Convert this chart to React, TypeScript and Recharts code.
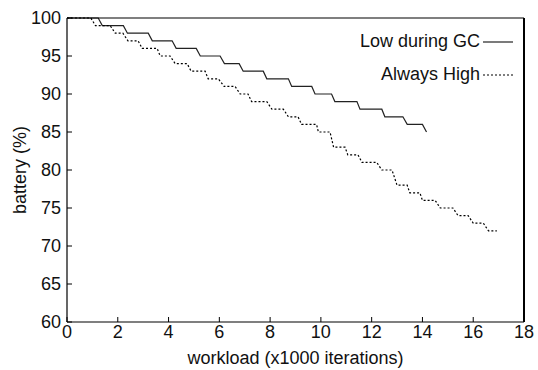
import React from "react";
import { LineChart, Line, XAxis, YAxis, Legend } from "recharts";

// Low during GC (solid)
const lowX = [0, 1.23, 1.39, 2.22, 2.38, 3.2, 3.36, 4.14, 4.3, 5.09, 5.25, 6.03, 6.2, 6.78, 6.94, 7.73, 7.87, 8.72, 8.85, 9.64, 9.77, 10.42, 10.55, 11.42, 11.54, 12.4, 12.52, 13.23, 13.4, 14.0, 14.16];
const lowY = [100, 100, 99, 99, 98, 98, 97, 97, 96, 96, 95, 95, 94, 94, 93, 93, 92, 92, 91, 91, 90, 90, 89, 89, 88, 88, 87, 87, 86, 86, 85];

// Always High (dotted)
const highX = [0, 0.94, 1.12, 1.7, 1.9, 2.2, 2.4, 2.8, 2.96, 3.55, 3.67, 4.06, 4.26, 4.73, 4.89, 5.44, 5.56, 5.96, 6.19, 6.62, 6.82, 7.13, 7.27, 7.87, 8.07, 8.52, 8.72, 9.1, 9.24, 9.83, 9.9, 10.36, 10.5, 10.95, 11.06, 11.46, 11.62, 12.2, 12.4, 12.8, 13.0, 13.4, 13.5, 13.9, 14.0, 14.5, 14.7, 15.2, 15.4, 15.8, 16.0, 16.4, 16.6, 16.93];
const highY = [100, 100, 99, 99, 98, 98, 97, 97, 96, 96, 95, 95, 94, 94, 93, 93, 92, 92, 91, 91, 90, 90, 89, 89, 88, 88, 87, 87, 86, 86, 85, 85, 83, 83, 82, 82, 81, 81, 80, 80, 78, 78, 77, 77, 76, 76, 75, 75, 74, 74, 73, 73, 72, 72];

const xTicks = [0, 2, 4, 6, 8, 10, 12, 14, 16, 18];
const yTicks = [60, 65, 70, 75, 80, 85, 90, 95, 100];

const seriesNames = ["Low during GC", "Always High"];

const lowData = lowX.map((x, i) => ({ x, y: lowY[i] }));
const highData = highX.map((x, i) => ({ x, y: highY[i] }));

const FONT = "'Liberation Sans', Arial, Helvetica, sans-serif";
const TXT = "#111";
const TICK_LEN = 5;
const XM = 3;
const YM = 6;

const BottomTick = (props: any) => {
  const { x, y, payload } = props;
  return (
    <g>
      <line x1={x} x2={x} y1={y - XM} y2={y - XM - TICK_LEN} stroke="#000" strokeWidth={1} />
      <text x={x} y={y} dy="0.71em" textAnchor="middle" fontSize={18} fontFamily={FONT} fill={TXT}>
        {payload.value}
      </text>
    </g>
  );
};

const LeftTick = (props: any) => {
  const { x, y, payload } = props;
  return (
    <g>
      <line x1={x + YM} x2={x + YM + TICK_LEN} y1={y} y2={y} stroke="#000" strokeWidth={1} />
      <text x={x} y={y} dy="0.355em" textAnchor="end" fontSize={18} fontFamily={FONT} fill={TXT}>
        {payload.value}
      </text>
    </g>
  );
};

const TopTick = (props: any) => {
  const { x, y } = props;
  return <line x1={x} x2={x} y1={y} y2={y + TICK_LEN} stroke="#000" strokeWidth={1} />;
};

const RightTick = (props: any) => {
  const { x, y } = props;
  return <line x1={x} x2={x - TICK_LEN} y1={y} y2={y} stroke="#000" strokeWidth={1} />;
};

const renderLegend = () => (
  <div style={{ fontFamily: FONT, fontSize: 18, color: TXT }}>
    {seriesNames.map((name, i) => (
      <div
        key={name}
        style={{ height: 33, lineHeight: "33px", display: "flex", alignItems: "center", justifyContent: "flex-end" }}
      >
        <span>{name}</span>
        <svg width={33} height={10} style={{ display: "block" }}>
          <line
            x1={3}
            x2={33}
            y1={5}
            y2={5}
            stroke={i === 0 ? "#222" : "#000"}
            strokeWidth={1.2}
            strokeDasharray={i === 0 ? undefined : "2 2"}
          />
        </svg>
      </div>
    ))}
  </div>
);

export default function App() {
  return (
    <div style={{ width: 538, height: 370, overflow: "hidden" }}>
      <style>{"html,body{margin:0;padding:0;overflow:hidden;}"}</style>
      <LineChart width={538} height={370} margin={{ top: 17, right: 13, bottom: 0, left: 0 }}>
        <XAxis
          xAxisId={0}
          dataKey="x"
          type="number"
          domain={[0, 18]}
          ticks={xTicks}
          allowDataOverflow
          height={48}
          tickSize={0}
          tickMargin={XM}
          tickLine={false}
          tick={<BottomTick />}
          axisLine={{ stroke: "#000", strokeWidth: 1.2 }}
          label={{ value: "workload (x1000 iterations)", position: "insideBottom", offset: 6, fontSize: 18, fontFamily: FONT, fill: TXT }}
        />
        <XAxis
          xAxisId="top"
          orientation="top"
          dataKey="x"
          type="number"
          domain={[0, 18]}
          ticks={xTicks}
          height={1}
          tickSize={0}
          tickMargin={0}
          tickLine={false}
          tick={<TopTick />}
          axisLine={{ stroke: "#000", strokeWidth: 1.2 }}
        />
        <YAxis
          yAxisId={0}
          type="number"
          domain={[60, 100]}
          ticks={yTicks}
          width={67}
          tickSize={0}
          tickMargin={YM}
          tickLine={false}
          tick={<LeftTick />}
          axisLine={{ stroke: "#000", strokeWidth: 1.2 }}
          label={{ value: "battery (%)", angle: -90, position: "insideLeft", offset: 20, fontSize: 18, fontFamily: FONT, fill: TXT, style: { textAnchor: "middle" } }}
        />
        <YAxis
          yAxisId="right"
          orientation="right"
          type="number"
          domain={[60, 100]}
          ticks={yTicks}
          width={1}
          tickSize={0}
          tickMargin={0}
          tickLine={false}
          tick={<RightTick />}
          axisLine={{ stroke: "#000", strokeWidth: 2 }}
        />
        <Legend
          layout="vertical"
          align="center"
          verticalAlign="middle"
          content={renderLegend}
          wrapperStyle={{ left: 333, top: 25, width: 180 }}
        />
        <Line
          data={lowData}
          dataKey="y"
          name={seriesNames[0]}
          type="linear"
          stroke="#222"
          strokeWidth={1.2}
          dot={false}
          isAnimationActive={false}
        />
        <Line
          data={highData}
          dataKey="y"
          name={seriesNames[1]}
          type="linear"
          stroke="#000"
          strokeWidth={1.2}
          strokeDasharray="2 2"
          dot={false}
          isAnimationActive={false}
        />
      </LineChart>
    </div>
  );
}
